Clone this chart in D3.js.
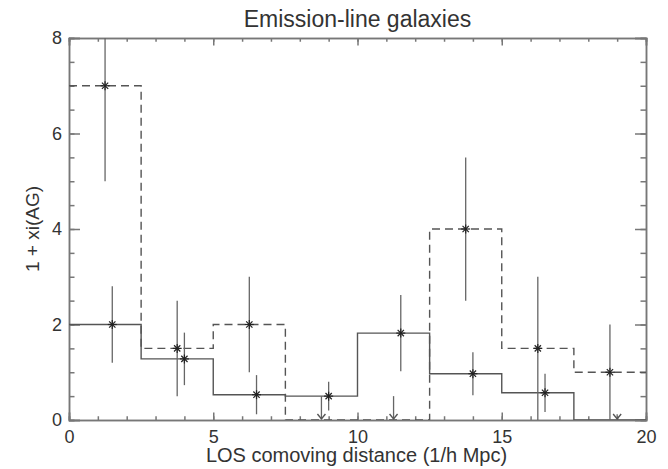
<!DOCTYPE html>
<html>
  <head>
    <title>Emission-line galaxies</title>
    <script src="https://d3js.org/d3.v7.min.js"></script>
    <style>
      body { margin: 0; background: #fff; }
      text { font-family: "Liberation Sans", Arial, sans-serif; fill: #333; }
      .axis .domain { stroke: #777; stroke-width: 1.5px; }
      .axis .tick line { stroke: #777; stroke-width: 1.5px; }
      .axis .tick text { font-size: 18px; fill: #333; }
      .hist { fill: none; stroke: #555; stroke-width: 1.4px; }
      .err { stroke: #666; stroke-width: 1.3px; }
      .star line { stroke: #222; stroke-width: 1.2px; }
    </style>
  </head>
  <body>
    <svg width="668" height="469"></svg>
    <script>
      // bins in LOS comoving distance (1/h Mpc)
      const binEdges = [0, 2.5, 5, 7.5, 10, 12.5, 15, 17.5, 20];
      const solidHist = [2.0, 1.28, 0.53, 0.5, 1.82, 0.97, 0.57, 0];
      const dashedHist = [7.0, 1.5, 2.0, 0, 0, 4.0, 1.5, 1.0];

      // solid sample: points with errors
      const solidX = [1.5, 4.0, 6.5, 9.0, 11.5, 14.0, 16.5];
      const solidY = [2.0, 1.28, 0.53, 0.5, 1.82, 0.97, 0.57];
      const solidErr = [0.8, 0.55, 0.41, 0.3, 0.8, 0.45, 0.4];
      const solidLimX = [19.0];
      const solidLimTop = [0.12];

      // dashed sample
      const dashedX = [1.25, 3.75, 6.25, 13.75, 16.25, 18.75];
      const dashedY = [7.0, 1.5, 2.0, 4.0, 1.5, 1.0];
      const dashedErr = [2.0, 1.0, 1.0, 1.5, 1.5, 1.0];
      const dashedLimX = [8.75, 11.25];
      const dashedLimTop = [0.5, 0.5];

      const xMajor = [0, 5, 10, 15, 20];
      const xMinor = d3.range(0, 21, 1);
      const yMajor = [0, 2, 4, 6, 8];
      const yMinor = d3.range(0, 8.01, 0.5);

      const margin = {top: 38, right: 22, bottom: 49, left: 69};
      const svg = d3.select("svg");
      const width = +svg.attr("width");
      const height = +svg.attr("height");
      const innerWidth = width - margin.left - margin.right;
      const innerHeight = height - margin.top - margin.bottom;

      const xScale = d3.scaleLinear().domain([0, 20]).range([0, innerWidth]);
      const yScale = d3.scaleLinear().domain([0, 8]).range([innerHeight, 0]);

      const g = svg.append("g")
          .attr("transform", `translate(${margin.left}, ${margin.top})`);

      g.append("clipPath").attr("id", "plot")
        .append("rect").attr("width", innerWidth).attr("height", innerHeight);

      // axes on all four sides, ticks pointing in; unlabeled ones lose their text
      function addAxis(axis, tx, ty, labeled) {
        const a = g.append("g").attr("class", "axis")
            .attr("transform", `translate(${tx}, ${ty})`)
            .call(axis);
        if (!labeled) a.selectAll("text").remove();
      }
      addAxis(d3.axisBottom(xScale).tickValues(xMinor).tickSize(-3.75), 0, innerHeight, false);
      addAxis(d3.axisBottom(xScale).tickValues(xMajor).tickSize(-7.5).tickPadding(10).tickFormat(d3.format("d")), 0, innerHeight, true);
      addAxis(d3.axisTop(xScale).tickValues(xMinor).tickSize(-3.75), 0, 0, false);
      addAxis(d3.axisTop(xScale).tickValues(xMajor).tickSize(-7.5), 0, 0, false);
      addAxis(d3.axisLeft(yScale).tickValues(yMinor).tickSize(-5.5), 0, 0, false);
      addAxis(d3.axisLeft(yScale).tickValues(yMajor).tickSize(-11).tickPadding(7).tickFormat(d3.format("d")), 0, 0, true);
      addAxis(d3.axisRight(yScale).tickValues(yMinor).tickSize(-5.5), innerWidth, 0, false);
      addAxis(d3.axisRight(yScale).tickValues(yMajor).tickSize(-11), innerWidth, 0, false);

      const plot = g.append("g").attr("clip-path", "url(#plot)");

      const step = d3.line()
          .x(d => xScale(d[0]))
          .y(d => yScale(d[1]))
          .curve(d3.curveStepAfter);
      const stepData = vals => binEdges.map((e, i) => [e, vals[Math.min(i, vals.length - 1)]]);

      plot.append("path").attr("class", "hist")
          .attr("d", step(stepData(solidHist)));
      plot.append("path").attr("class", "hist")
          .attr("stroke-dasharray", "8,5")
          .attr("d", step(stepData(dashedHist)));

      function errorBars(xs, ys, es) {
        plot.selectAll(null).data(xs).enter().append("line")
            .attr("class", "err")
            .attr("x1", d => xScale(d)).attr("x2", d => xScale(d))
            .attr("y1", (d, i) => yScale(ys[i] + es[i]))
            .attr("y2", (d, i) => yScale(Math.max(0, ys[i] - es[i])));
      }
      function stars(xs, ys) {
        const r = 4.5;
        const s = plot.selectAll(null).data(xs).enter().append("g")
            .attr("class", "star")
            .attr("transform", (d, i) => `translate(${xScale(d)}, ${yScale(ys[i])})`);
        [[-r, 0, r, 0], [0, -r, 0, r], [-r * 0.7, -r * 0.7, r * 0.7, r * 0.7], [-r * 0.7, r * 0.7, r * 0.7, -r * 0.7]]
          .forEach(c => s.append("line").attr("x1", c[0]).attr("y1", c[1]).attr("x2", c[2]).attr("y2", c[3]));
      }
      function limits(xs, tops) {
        const a = g.selectAll(null).data(xs).enter().append("g")
            .attr("transform", d => `translate(${xScale(d)}, 0)`);
        a.append("line").attr("class", "err")
            .attr("y1", (d, i) => yScale(tops[i])).attr("y2", yScale(0) - 1);
        a.append("path").attr("class", "hist")
            .attr("d", `M-4,${yScale(0) - 6}L0,${yScale(0) - 1}L4,${yScale(0) - 6}`);
      }

      errorBars(solidX, solidY, solidErr);
      errorBars(dashedX, dashedY, dashedErr);
      stars(solidX, solidY);
      stars(dashedX, dashedY);
      limits(solidLimX, solidLimTop);
      limits(dashedLimX, dashedLimTop);

      svg.append("text")
          .attr("x", margin.left + innerWidth / 2).attr("y", 27)
          .attr("text-anchor", "middle").style("font-size", "23px")
          .text("Emission-line galaxies");
      svg.append("text")
          .attr("x", margin.left + innerWidth / 2 - 1).attr("y", 462)
          .attr("text-anchor", "middle").style("font-size", "20px")
          .text("LOS comoving distance (1/h Mpc)");
      svg.append("text")
          .attr("transform", `translate(39, ${margin.top + innerHeight / 2}) rotate(-90)`)
          .attr("text-anchor", "middle").style("font-size", "19px")
          .text("1 + xi(AG)");
    </script>
  </body>
</html>
